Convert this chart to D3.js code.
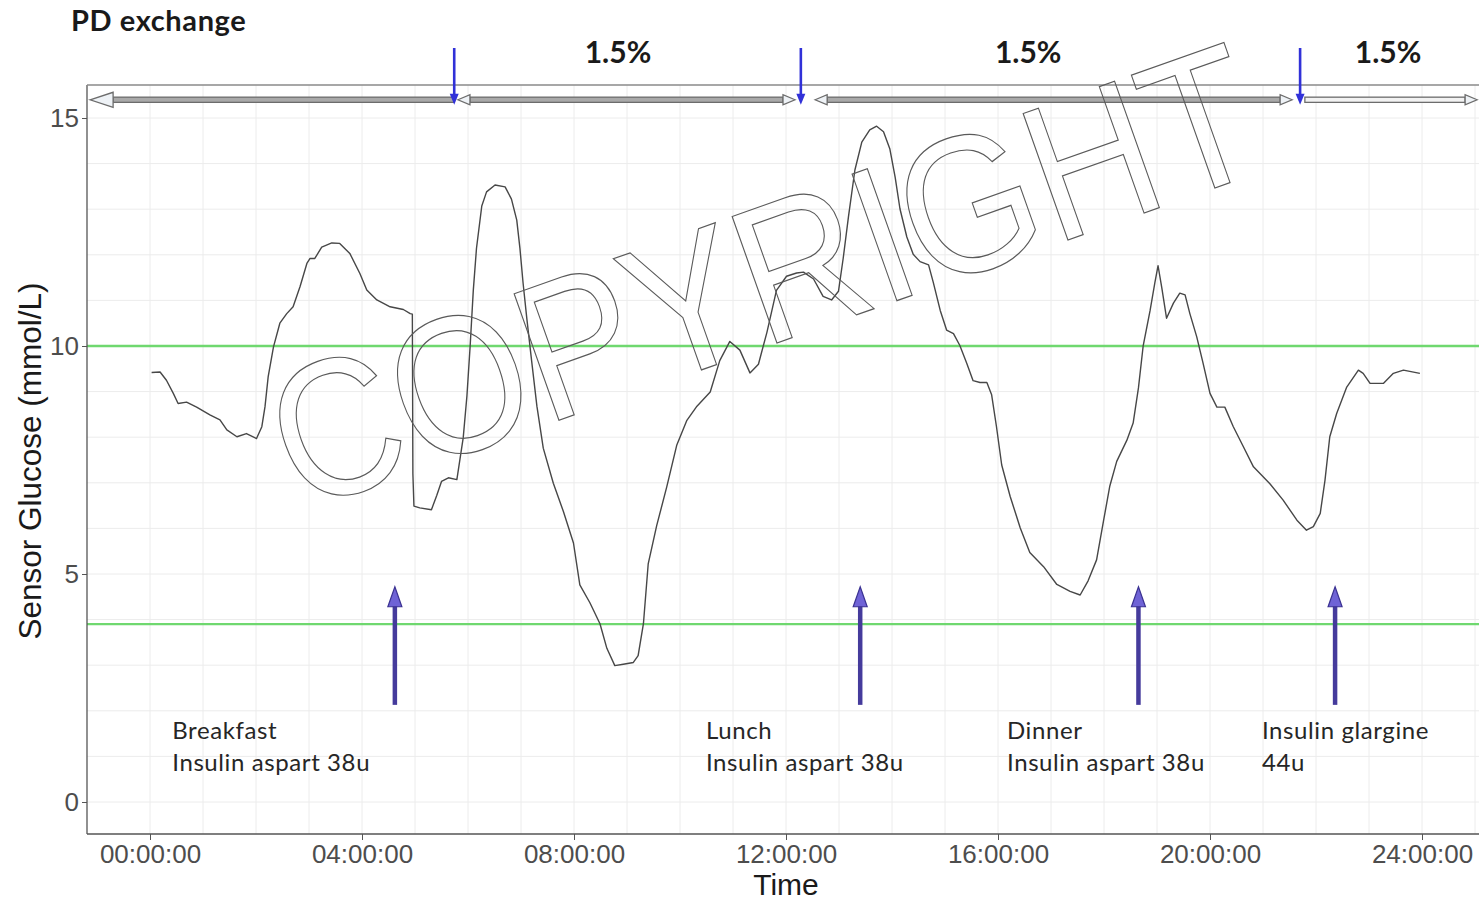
<!DOCTYPE html>
<html>
<head>
<meta charset="utf-8">
<script src="https://cdn.jsdelivr.net/npm/d3@7"></script>
<style>
  body { margin: 0; background: #fff; }
  svg { display: block; }
</style>
</head>
<body>
<svg id="chart" width="1479" height="901"></svg>
<script>
// Continuous glucose monitor trace over 24 h (hours since midnight, mmol/L)
const glucoseTime = [
  0.03, 0.19, 0.31, 0.44, 0.53, 0.69, 0.88, 1.13, 1.32, 1.45, 1.64, 1.82, 2.01, 2.11, 2.17, 2.23,
  2.33, 2.45, 2.58, 2.70, 2.83, 2.96, 3.02, 3.11, 3.24, 3.43, 3.58, 3.77, 3.96, 4.09, 4.28, 4.53,
  4.78, 4.91, 4.95, 4.96, 4.98, 5.09, 5.31, 5.41, 5.50, 5.63, 5.79, 5.85, 5.91, 5.98, 6.04, 6.10,
  6.16, 6.26, 6.35, 6.51, 6.70, 6.82, 6.92, 6.98, 7.04, 7.11, 7.20, 7.30, 7.42, 7.61, 7.80, 7.99,
  8.11, 8.30, 8.49, 8.62, 8.77, 8.93, 9.12, 9.21, 9.31, 9.40, 9.56, 9.75, 9.94, 10.13, 10.32, 10.57,
  10.75, 10.94, 11.13, 11.32, 11.48, 11.64, 11.82, 12.01, 12.20, 12.33, 12.52, 12.70, 12.86, 12.99,
  13.08, 13.18, 13.30, 13.43, 13.58, 13.71, 13.84, 13.96, 14.06, 14.15, 14.28, 14.40, 14.53, 14.69,
  14.78, 14.91, 15.03, 15.16, 15.28, 15.41, 15.53, 15.66, 15.79, 15.88, 15.97, 16.07, 16.23, 16.42,
  16.60, 16.86, 17.11, 17.36, 17.55, 17.70, 17.86, 17.99, 18.11, 18.24, 18.43, 18.55, 18.65, 18.74,
  18.87, 18.96, 19.02, 19.09, 19.18, 19.31, 19.43, 19.53, 19.62, 19.75, 19.87, 20.00, 20.13, 20.28,
  20.44, 20.63, 20.82, 21.13, 21.38, 21.64, 21.82, 21.95, 22.08, 22.17, 22.26, 22.39, 22.58, 22.80,
  22.89, 23.02, 23.27, 23.46, 23.65, 23.96
];
const glucoseValue = [
  9.42, 9.43, 9.25, 8.96, 8.74, 8.77, 8.66, 8.49, 8.38, 8.16, 8.01, 8.08, 7.97, 8.23, 8.67, 9.33,
  9.98, 10.50, 10.71, 10.86, 11.30, 11.81, 11.92, 11.92, 12.17, 12.26, 12.25, 12.03, 11.59, 11.23, 11.01, 10.86,
  10.80, 10.71, 10.70, 7.20, 6.49, 6.45, 6.41, 6.72, 7.03, 7.11, 7.07, 7.53, 7.99, 8.91, 9.99, 11.22,
  12.14, 13.07, 13.38, 13.53, 13.49, 13.22, 12.76, 12.14, 11.37, 10.60, 9.68, 8.68, 7.76, 6.99, 6.37, 5.68,
  4.76, 4.37, 3.91, 3.37, 2.99, 3.02, 3.06, 3.21, 3.91, 5.22, 6.06, 6.91, 7.83, 8.37, 8.68, 8.99,
  9.68, 10.10, 9.91, 9.41, 9.60, 10.30, 11.22, 11.53, 11.60, 11.62, 11.47, 11.09, 11.01, 11.20,
  11.93, 12.85, 13.86, 14.47, 14.74, 14.82, 14.70, 14.32, 13.70, 13.01, 12.39, 12.01, 11.85, 11.78,
  11.39, 10.78, 10.35, 10.27, 10.01, 9.62, 9.24, 9.20, 9.20, 8.93, 8.24, 7.39, 6.70, 6.01,
  5.47, 5.16, 4.77, 4.62, 4.54, 4.85, 5.31, 6.16, 6.93, 7.47, 7.93, 8.31, 9.08, 10.01,
  10.78, 11.39, 11.76, 11.28, 10.61, 10.94, 11.16, 11.12, 10.71, 10.20, 9.62, 8.96, 8.66, 8.66,
  8.23, 7.79, 7.35, 6.98, 6.62, 6.18, 5.96, 6.04, 6.33, 7.06, 8.01, 8.52, 9.10, 9.47,
  9.40, 9.18, 9.18, 9.40, 9.47, 9.40
];

// Axis breaks
const xTicks = [0, 4, 8, 12, 16, 20, 24];
const yTicks = [0, 5, 10, 15];

// Target glucose range limits (mmol/L)
const targetLimits = [3.9, 10];

// Meals and insulin doses
const mealTime = [4.62, 13.40, 18.65, 22.36];
const mealArrowFrom = 2.13;
const mealArrowTo = 4.72;
const mealLabelTime = [0.42, 10.49, 16.17, 20.98];
const mealLabelLine1 = ["Breakfast", "Lunch", "Dinner", "Insulin glargine"];
const mealLabelLine2 = ["Insulin aspart 38u", "Insulin aspart 38u", "Insulin aspart 38u", "44u"];

// Peritoneal dialysis exchanges and dwell periods
const exchangeTime = [5.74, 12.28, 21.70];
const dwellStart = [-1.13, 5.81, 12.55, 21.79];
const dwellEnd = [5.74, 12.17, 21.55, 25.04];
const dwellLabel = ["1.5%", "1.5%", "1.5%"];
const dwellLabelTime = [8.83, 16.57, 23.36];

const svg = d3.select("#chart");
const panel = { left: 87, right: 1479, top: 85, bottom: 834 };

const x = d3.scaleLinear().domain([0, 24]).range([150, 1422]);
const y = d3.scaleLinear().domain([0, 15]).range([802, 118]);

const axisFont = "'Liberation Sans', Arial, sans-serif";
const noteFont = "Lato, 'Open Sans', sans-serif";

// Grid: hourly vertical lines, 1 mmol/L horizontal lines
const grid = svg.append("g").attr("class", "grid");
const xMin = x.invert(panel.left), xMax = x.invert(panel.right);
const yMin = y.invert(panel.bottom), yMax = y.invert(panel.top);
grid.selectAll("line.v")
  .data(d3.range(Math.ceil(xMin), Math.floor(xMax) + 1).filter(h => h >= 0))
  .join("line")
  .attr("x1", d => x(d)).attr("x2", d => x(d))
  .attr("y1", panel.top).attr("y2", panel.bottom)
  .attr("stroke", "#ececec").attr("stroke-width", 1);
grid.selectAll("line.h")
  .data(d3.range(Math.ceil(yMin), Math.floor(yMax) + 1))
  .join("line")
  .attr("x1", panel.left).attr("x2", panel.right)
  .attr("y1", d => y(d)).attr("y2", d => y(d))
  .attr("stroke", "#ececec").attr("stroke-width", 1);

// Target range limits
svg.append("g").selectAll("line")
  .data(targetLimits)
  .join("line")
  .attr("x1", panel.left).attr("x2", panel.right)
  .attr("y1", d => y(d)).attr("y2", d => y(d))
  .attr("stroke", "#6fd86f").attr("stroke-width", 2.4);

// Glucose trace
const trace = glucoseTime.map((t, i) => [t, glucoseValue[i]]);
svg.append("path")
  .datum(trace)
  .attr("fill", "none")
  .attr("stroke", "#474747")
  .attr("stroke-width", 1.4)
  .attr("stroke-linejoin", "round")
  .attr("d", d3.line().x(d => x(d[0])).y(d => y(d[1])));

// Axes
const xAxis = d3.axisBottom(x)
  .tickValues(xTicks)
  .tickSize(6)
  .tickPadding(5)
  .tickFormat(d => String(d).padStart(2, "0") + ":00:00");
const gx = svg.append("g").attr("transform", `translate(0,${panel.bottom})`).call(xAxis);
gx.select(".domain").remove();
gx.selectAll(".tick line").attr("stroke", "#555");
gx.selectAll(".tick text").attr("font-family", axisFont).attr("font-size", 26).attr("fill", "#4d4d4d");

const yAxis = d3.axisLeft(y).tickValues(yTicks).tickSize(5).tickPadding(3);
const gy = svg.append("g").attr("transform", `translate(${panel.left},0)`).call(yAxis);
gy.select(".domain").remove();
gy.selectAll(".tick line").attr("stroke", "#555");
gy.selectAll(".tick text").attr("font-family", axisFont).attr("font-size", 26).attr("fill", "#4d4d4d");

svg.append("line")
  .attr("x1", panel.left).attr("x2", panel.left)
  .attr("y1", panel.top).attr("y2", panel.bottom)
  .attr("stroke", "#555").attr("stroke-width", 1.3);
svg.append("line")
  .attr("x1", panel.left).attr("x2", panel.right)
  .attr("y1", panel.bottom).attr("y2", panel.bottom)
  .attr("stroke", "#555").attr("stroke-width", 1.3);

svg.append("text")
  .attr("x", (x(0) + x(24)) / 2).attr("y", 895)
  .attr("text-anchor", "middle")
  .attr("font-family", axisFont).attr("font-size", 30).attr("fill", "#1a1a1a")
  .text("Time");
svg.append("text")
  .attr("transform", `translate(41,${(y(0) + y(15)) / 2 + 1}) rotate(-90)`)
  .attr("text-anchor", "middle")
  .attr("font-family", axisFont).attr("font-size", 31.5).attr("fill", "#1a1a1a")
  .text("Sensor Glucose (mmol/L)");

// Dwell period band at the top of the panel
svg.append("line")
  .attr("x1", panel.left).attr("x2", panel.right)
  .attr("y1", panel.top).attr("y2", panel.top)
  .attr("stroke", "#8a8a8a").attr("stroke-width", 1.5);

const bandValue = 15.4;
const band = svg.append("g").attr("stroke", "#6c6c6c").attr("stroke-width", 1.3);
dwellStart.forEach((s, i) => {
  const x0 = x(s), x1 = x(dwellEnd[i]), yc = y(bandValue);
  const headL = i < dwellStart.length - 1;
  const headR = i > 0;
  const L = i === 0 ? 23 : 12, Hh = i === 0 ? 7.5 : 5, h = 2.6;
  const a = headL ? x0 + L : x0, b = headR ? x1 - L : x1;
  band.append("rect")
    .attr("x", a).attr("y", yc - h).attr("width", b - a).attr("height", 2 * h)
    .attr("fill", i === dwellStart.length - 1 ? "#f2f2f2" : "#a9a9a9");
  if (headL) {
    band.append("path")
      .attr("d", `M${x0},${yc}L${x0 + L},${yc - Hh}L${x0 + L},${yc + Hh}Z`)
      .attr("fill", "#eef2f6");
  }
  if (headR) {
    band.append("path")
      .attr("d", `M${x1},${yc}L${x1 - L},${yc - Hh}L${x1 - L},${yc + Hh}Z`)
      .attr("fill", "#eef2f6");
  }
});

// Exchange markers
const exch = svg.append("g");
exchangeTime.forEach(t => {
  const xt = x(t), tip = y(bandValue) + 5;
  exch.append("line")
    .attr("x1", xt).attr("x2", xt)
    .attr("y1", 48).attr("y2", tip - 8)
    .attr("stroke", "#3131d8").attr("stroke-width", 2.6);
  exch.append("path")
    .attr("d", `M${xt - 4.5},${tip - 11}L${xt + 4.5},${tip - 11}L${xt},${tip}Z`)
    .attr("fill", "#3131d8");
});

svg.append("g").selectAll("text")
  .data(dwellLabel)
  .join("text")
  .attr("x", (d, i) => x(dwellLabelTime[i]))
  .attr("y", 63)
  .attr("text-anchor", "middle")
  .attr("font-family", noteFont).attr("font-weight", 700).attr("font-size", 30)
  .attr("fill", "#1a1a1a")
  .text(d => d);

svg.append("text")
  .attr("x", 71).attr("y", 31)
  .attr("font-family", noteFont).attr("font-weight", 700).attr("font-size", 29)
  .attr("letter-spacing", 0.6)
  .attr("fill", "#1a1a1a")
  .text("PD exchange");

// Meal / insulin markers
const meals = svg.append("g");
mealTime.forEach(t => {
  const xt = x(t), top = y(mealArrowTo), bottom = y(mealArrowFrom);
  meals.append("line")
    .attr("x1", xt).attr("x2", xt)
    .attr("y1", bottom).attr("y2", top + 16)
    .attr("stroke", "#453b9c").attr("stroke-width", 4.5);
  meals.append("path")
    .attr("d", `M${xt},${top}L${xt + 7},${top + 20}L${xt - 7},${top + 20}Z`)
    .attr("fill", "#6f63d6").attr("stroke", "#3b3292").attr("stroke-width", 1.2);
});

const mealText = svg.append("g")
  .attr("font-family", noteFont).attr("font-size", 24).attr("letter-spacing", 0.6)
  .attr("fill", "#262626");
mealLabelLine1.forEach((s, i) => {
  mealText.append("text").attr("x", x(mealLabelTime[i])).attr("y", 739).text(s);
  mealText.append("text").attr("x", x(mealLabelTime[i])).attr("y", 771).text(mealLabelLine2[i]);
});

// Watermark
svg.append("text")
  .attr("transform", "translate(300,512) rotate(-19.5) scale(0.89,1)")
  .attr("font-family", axisFont).attr("font-size", 195)
  .attr("fill", "none").attr("stroke", "#5a5a5a").attr("stroke-width", 1.2)
  .text("COPYRIGHT");
</script>
</body>
</html>
